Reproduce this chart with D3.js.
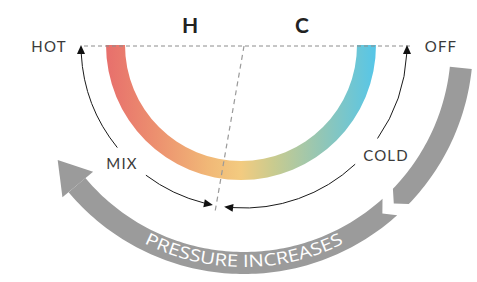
<!DOCTYPE html>
<html>
<head>
<meta charset="utf-8">
<script src="https://cdn.jsdelivr.net/npm/d3@7"></script>
<style>
  html, body { margin: 0; padding: 0; background: #fff; }
  svg { display: block; }
</style>
</head>
<body>
<svg id="chart" width="477" height="282"></svg>
<script>
// handle positions (H / C) and labels
const sideLabels = ["H", "C"];
const sideLabelX = [190, 302];
const endLabels = [
  { text: "HOT", x: 49, y: 52 },
  { text: "OFF", x: 441, y: 52 },
  { text: "MIX", x: 122, y: 169 },
  { text: "COLD", x: 386, y: 161 }
];
// colour stops along the mixing arc (left = hot, right = cold)
const gradientOffsets = [0, 0.18, 0.38, 0.5, 0.62, 0.8, 1];
const gradientColors = ["#e76f6c", "#ec8f6f", "#f1b877", "#f3cb80", "#c9cb8f", "#92c6b6", "#56c6e8"];
// thin arrows: [from angle, to angle (tip)] in degrees, screen polar
const thinArrows = [[141, 180], [127, 101], [47, 97], [35, 0]];
// pressure band pieces, degrees
const bandUpper = [6, 44];
const bandLower = [48, 140];
const pressureText = "PRESSURE INCREASES";

const svg = d3.select("#chart");
const cx = 244, cy = 45;
const rad = d => d * Math.PI / 180;
const pt = (r, deg) => [cx + r * Math.cos(rad(deg)), cy + r * Math.sin(rad(deg))];

const defs = svg.append("defs");
// gradient lives in the arc's own (translated) coordinates
const grad = defs.append("linearGradient")
  .attr("id", "mixGrad")
  .attr("gradientUnits", "userSpaceOnUse")
  .attr("x1", -135).attr("x2", 135).attr("y1", 0).attr("y2", 0);
grad.selectAll("stop")
  .data(gradientOffsets)
  .join("stop")
  .attr("offset", d => d)
  .attr("stop-color", (d, i) => gradientColors[i]);

// grey pressure band
const rIn = 207, rOut = 229, rMid = 218;
const lineGen = d3.line();
function bandPiece(a0, a1, startNotch, endTip) {
  const pts = [];
  if (startNotch) pts.push(pt(rMid, a0 + 2.6));
  for (let a = a0; a <= a1; a += 1) pts.push(pt(rOut, a));
  pts.push(pt(rOut, a1));
  if (endTip) pts.push(pt(rMid, a1 + 2.6));
  for (let a = a1; a >= a0; a -= 1) pts.push(pt(rIn, a));
  pts.push(pt(rIn, a0));
  return lineGen(pts) + "Z";
}
svg.append("path").attr("d", bandPiece(bandUpper[0], bandUpper[1], false, true)).attr("fill", "#9b9b9b");
svg.append("path").attr("d", bandPiece(bandLower[0], bandLower[1], true, false)).attr("fill", "#9b9b9b");
// big arrow head
svg.append("path")
  .attr("d", lineGen([pt(197, 140), pt(219, 148.3), pt(237, 140)]) + "Z")
  .attr("fill", "#9b9b9b");

// text along the band
const textPath = d3.path();
textPath.arc(cx, cy, 222, rad(125), rad(55), true);
defs.append("path").attr("id", "pressPath").attr("d", textPath.toString());
svg.append("text")
  .attr("font-family", "'Open Sans', sans-serif")
  .attr("font-size", 17)
  .attr("fill", "#fff")
  .append("textPath")
  .attr("href", "#pressPath")
  .attr("startOffset", "50%")
  .attr("text-anchor", "middle")
  .attr("textLength", 207)
  .attr("lengthAdjust", "spacingAndGlyphs")
  .text(pressureText);

// mixing arc
const arc = d3.arc()
  .innerRadius(116)
  .outerRadius(135)
  .startAngle(Math.PI / 2)
  .endAngle(3 * Math.PI / 2);
svg.append("path")
  .attr("transform", "translate(241,45)")
  .attr("d", arc())
  .attr("fill", "url(#mixGrad)");

// dashed guides
svg.append("line")
  .attr("x1", 84).attr("x2", 412).attr("y1", 46).attr("y2", 46)
  .attr("stroke", "#8c8c8c").attr("stroke-width", 1).attr("stroke-dasharray", "4,3");
svg.append("line")
  .attr("x1", 244).attr("y1", 46).attr("x2", 215).attr("y2", 212)
  .attr("stroke", "#9a9a9a").attr("stroke-width", 1.2).attr("stroke-dasharray", "5,4");

// thin arrows
const rThin = 163;
thinArrows.forEach(([a0, a1]) => {
  const ccw = a1 < a0;
  const dir = ccw ? [Math.sin(rad(a1)), -Math.cos(rad(a1))] : [-Math.sin(rad(a1)), Math.cos(rad(a1))];
  const back = (ccw ? 1 : -1) * 3;
  const p = d3.path();
  p.arc(cx, cy, rThin, rad(a0), rad(a1 + back), ccw);
  svg.append("path").attr("d", p.toString())
    .attr("fill", "none").attr("stroke", "#1a1a1a").attr("stroke-width", 1);
  const tip = pt(rThin, a1);
  const len = 9, half = 4;
  const base = [tip[0] - dir[0] * len, tip[1] - dir[1] * len];
  const nrm = [-dir[1], dir[0]];
  svg.append("path")
    .attr("d", lineGen([tip, [base[0] + nrm[0] * half, base[1] + nrm[1] * half], [base[0] - nrm[0] * half, base[1] - nrm[1] * half]]) + "Z")
    .attr("fill", "#111");
});

// labels
svg.selectAll("text.side")
  .data(sideLabels)
  .join("text")
  .attr("class", "side")
  .attr("x", (d, i) => sideLabelX[i])
  .attr("y", 33)
  .attr("text-anchor", "middle")
  .attr("font-family", "Lato, sans-serif")
  .attr("font-weight", "bold")
  .attr("font-size", 21)
  .attr("fill", "#222")
  .text(d => d);

svg.selectAll("text.end")
  .data(endLabels)
  .join("text")
  .attr("class", "end")
  .attr("x", d => d.x)
  .attr("y", d => d.y)
  .attr("text-anchor", "middle")
  .attr("font-family", "Lato, sans-serif")
  .attr("font-size", 15)
  .attr("letter-spacing", 1.2)
  .attr("fill", "#3a3a3a")
  .text(d => d.text);
</script>
</body>
</html>
